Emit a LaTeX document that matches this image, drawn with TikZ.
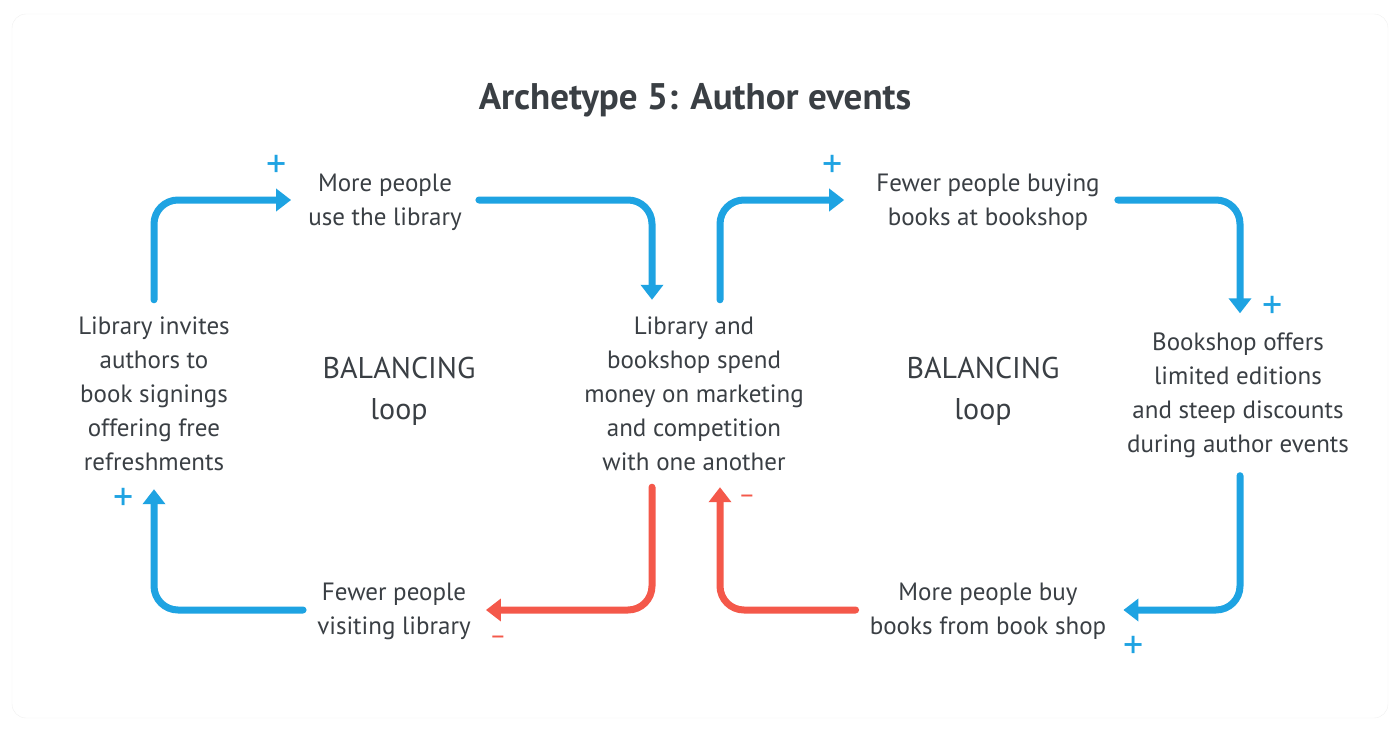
\documentclass[tikz,border=0pt]{standalone}
\usepackage{fontspec}
\setmainfont{PT Sans}
\usetikzlibrary{arrows.meta}
\definecolor{linkblue}{RGB}{30,163,226}
\definecolor{linkred}{RGB}{244,88,74}
\definecolor{ink}{RGB}{58,63,68}

\begin{document}
\begin{tikzpicture}[x=1pt, y=-1pt,
	txt/.style={text=ink, align=center, inner sep=0pt, font=\fontsize{25}{34}\selectfont},
	bluearrow/.style={draw=linkblue, line width=7pt, line cap=round, rounded corners=24pt, -{Triangle[length=15pt,width=22pt]}},
	redarrow/.style={bluearrow, draw=linkred},
	plussign/.style={text=linkblue, inner sep=0pt, font=\fontsize{40}{40}\selectfont},
	minussign/.style={text=linkred, inner sep=0pt, font=\fontsize{26}{26}\selectfont}]
	\useasboundingbox (0,0) rectangle (1400,733);
	\draw[black!6, fill=white, rounded corners=14pt] (12,14) rectangle (1388,718);
	% title
	\node[txt, font=\bfseries\fontsize{37}{40}\selectfont] (title) at (695,100) {Archetype 5: Author events};
	% left loop
	\node[txt] (more) at (385,202) {More people\\use the library};
	\node[txt] (invite) at (154,394) {Library invites\\authors to\\book signings\\offering free\\refreshments};
	\node[txt] (visits) at (394,611) {Fewer people\\visiting library};
	\node[txt, font=\fontsize{30}{41}\selectfont] (loopL) at (399,391) {BALANCING\\loop};
	% shared node
	\node[txt] (hub) at (694,394) {Library and\\bookshop spend\\money on marketing\\and competition\\with one another};
	% right loop
	\node[txt] (buying) at (988,202) {Fewer people buying\\books at bookshop};
	\node[txt] (offers) at (1238,395) {Bookshop offers\\limited editions\\and steep discounts\\during author events};
	\node[txt] (buy) at (988,611) {More people buy\\books from book shop};
	\node[txt, font=\fontsize{30}{41}\selectfont] (loopR) at (983,391) {BALANCING\\loop};
	% links
	\draw[bluearrow] ([yshift=17pt]invite.north) |- ([xshift=-17pt,yshift=2pt]more.west);
	\draw[bluearrow] ([xshift=17pt,yshift=2pt]more.east) -| ([xshift=-42pt,yshift=17pt]hub.north);
	\draw[bluearrow] ([xshift=26pt,yshift=17pt]hub.north) |- ([xshift=-32pt,yshift=2pt]buying.west);
	\draw[bluearrow] ([xshift=18pt,yshift=2pt]buying.east) -| ([xshift=2pt,yshift=19pt]offers.north);
	\draw[bluearrow] ([xshift=2pt,yshift=-18pt]offers.south) |- ([xshift=17pt,yshift=1pt]buy.east);
	\draw[redarrow] ([xshift=-14pt,yshift=1pt]buy.west) -| ([xshift=26pt,yshift=-16pt]hub.south);
	\draw[redarrow] ([xshift=-42pt,yshift=-16pt]hub.south) |- ([xshift=15pt,yshift=1pt]visits.east);
	\draw[bluearrow] ([xshift=-14pt,yshift=1pt]visits.west) -| ([yshift=-18pt]invite.south);
	% signs
	\node[plussign] (s1) at (277,166) {+};
	\node[plussign] (s2) at (833,166) {+};
	\node[plussign] (s3) at (1273,307) {+};
	\node[plussign] (s4) at (1134,647) {+};
	\node[plussign] (s5) at (124,499) {+};
	\node[minussign] (s6) at (747,499) {–};
	\node[minussign] (s7) at (498,640) {–};
\end{tikzpicture}
\end{document}
